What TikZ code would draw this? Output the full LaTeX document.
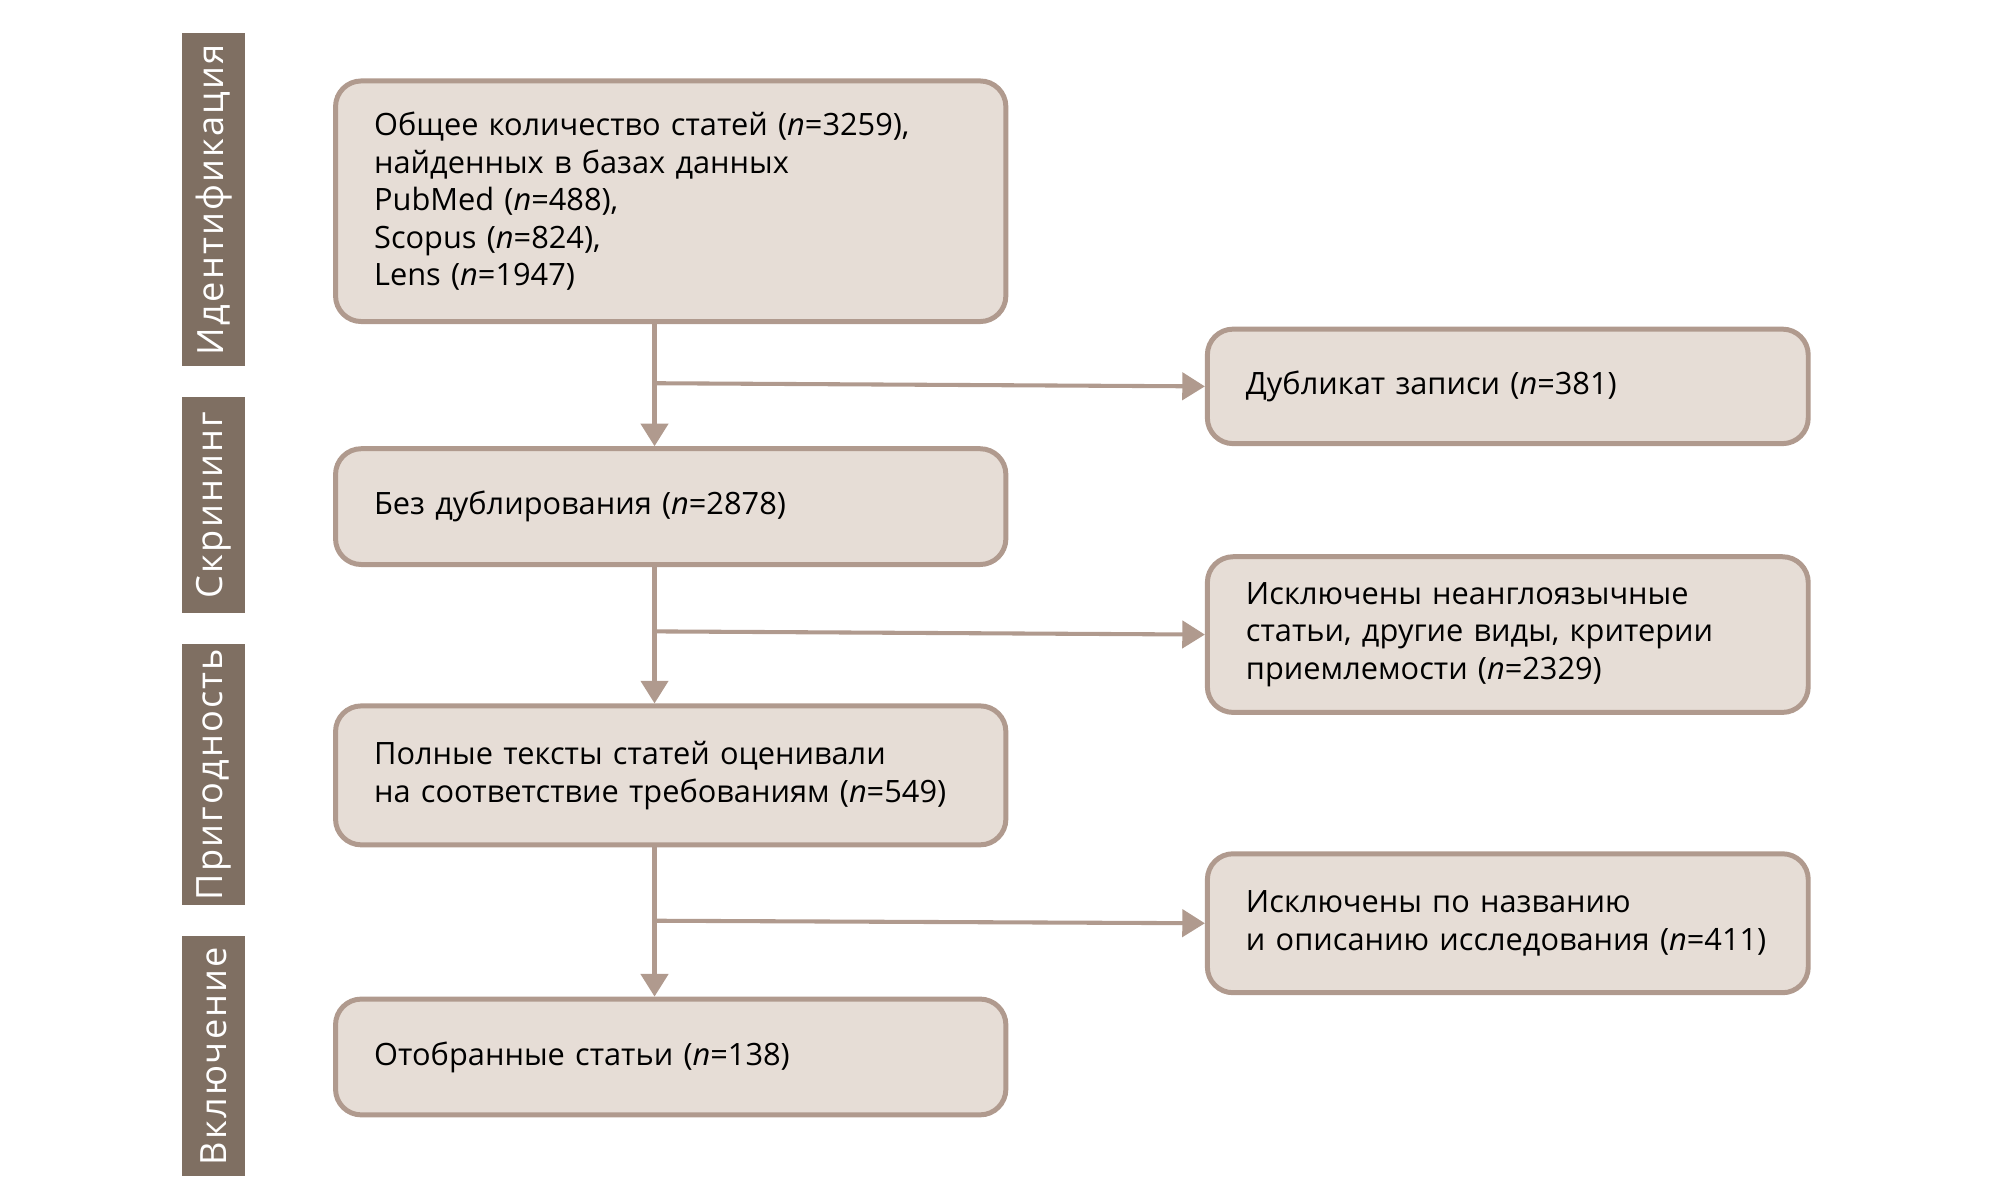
\documentclass[tikz,border=0pt]{standalone}
\usepackage{fontspec}
\setmainfont{Open Sans}
\usetikzlibrary{arrows.meta,positioning}
\definecolor{stage}{HTML}{7F6F62}
\definecolor{boxfill}{HTML}{E6DDD6}
\definecolor{boxline}{HTML}{B09A8E}

\begin{document}
\begin{tikzpicture}
    [x=0.01cm,y=-0.01cm,
     box/.style={draw=boxline,fill=boxfill,line width=1.1pt,rounded corners=0.2cm,
        anchor=north west,align=left,inner sep=0pt,inner xsep=0.3cm,
        font=\fontsize{6.8pt}{8.3pt}\selectfont},
     stagebar/.style={fill=stage,anchor=north west,inner sep=0pt,minimum width=0.49cm},
     stagetext/.style={text=white,rotate=90,
        font=\fontsize{8pt}{9pt}\selectfont\addfontfeatures{LetterSpace=6}},
     link/.style={draw=boxline,line width=0.9pt},
     arr/.style={link,-{Triangle[length=5pt,width=6pt]}}]
    \useasboundingbox (0,0) rectangle (1560,935);

    % stages
    \node[stagebar,minimum height=2.59cm] (sid) at (141,25) {};
    \node[stagetext] at (sid.center) {Идентификация};
    \node[stagebar,minimum height=1.68cm] (sscr) at (141,308) {};
    \node[stagetext] at (sscr.center) {Скрининг};
    \node[stagebar,minimum height=2.03cm] (selig) at (141,500) {};
    \node[stagetext] at (selig.center) {Пригодность};
    \node[stagebar,minimum height=1.87cm] (sinc) at (141,727) {};
    \node[stagetext] at (sinc.center) {Включение};

    % main column
    \node[box,text width=4.61cm,minimum height=1.87cm] (found) at (259,61)
        {Общее количество статей (\textit{n}=3259),\\найденных в базах данных\\PubMed (\textit{n}=488),\\Scopus (\textit{n}=824),\\Lens (\textit{n}=1947)};
    \node[box,text width=4.61cm,minimum height=0.90cm] (nodup) at (259,347)
        {Без дублирования (\textit{n}=2878)};
    \node[box,text width=4.61cm,minimum height=1.08cm] (full) at (259,547)
        {Полные тексты статей оценивали\\на соответствие требованиям (\textit{n}=549)};
    \node[box,text width=4.61cm,minimum height=0.90cm] (final) at (259,775)
        {Отобранные статьи (\textit{n}=138)};

    % excluded
    \node[box,text width=4.07cm,minimum height=0.89cm] (dup) at (937,254)
        {Дубликат записи (\textit{n}=381)};
    \node[box,text width=4.07cm,minimum height=1.21cm] (exA) at (937,431)
        {Исключены неанглоязычные\\статьи, другие виды, критерии\\приемлемости (\textit{n}=2329)};
    \node[box,text width=4.07cm,minimum height=1.08cm] (exB) at (937,662)
        {Исключены по названию\\и описанию исследования (\textit{n}=411)};

    % connectors
    \coordinate (j1) at (509,298);
    \coordinate (j2) at (509,491);
    \coordinate (j3) at (509,716);
    \draw[arr] (found.south -| j1) -- (nodup.north -| j1);
    \draw[arr] (j1) -- (dup.west);
    \draw[arr] (nodup.south -| j2) -- (full.north -| j2);
    \draw[arr] (j2) -- (exA.west);
    \draw[arr] (full.south -| j3) -- (final.north -| j3);
    \draw[arr] (j3) -- (exB.west);
\end{tikzpicture}
\end{document}
